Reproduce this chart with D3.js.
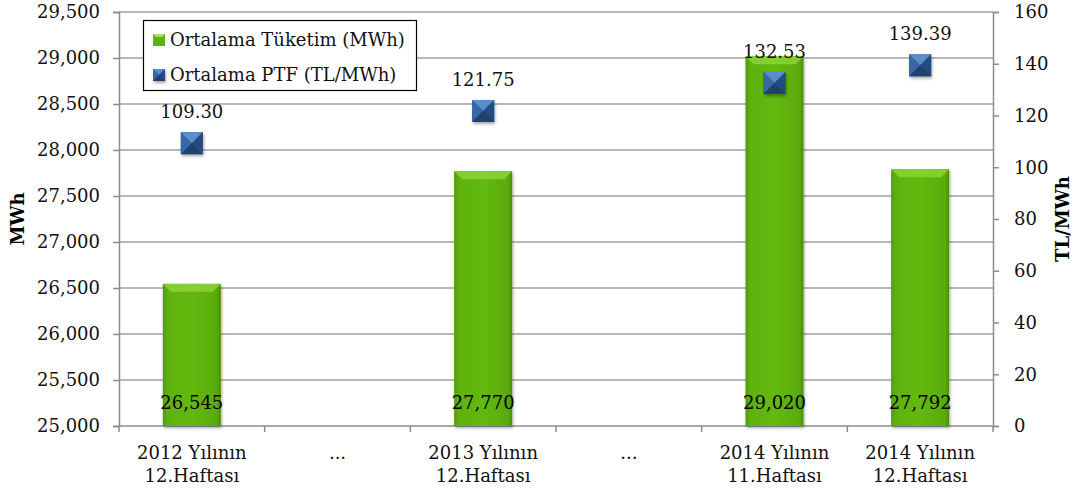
<!DOCTYPE html>
<html>
<head>
<meta charset="utf-8">
<script src="https://cdn.jsdelivr.net/npm/d3@7"></script>
<style>
  body { margin: 0; background: #fff; }
  svg { display: block; font-family: "DejaVu Serif", serif; }
</style>
</head>
<body>
<svg width="1077" height="496"></svg>
<script>
// chart data
var categories = ['2012 Yılının|12.Haftası', '...', '2013 Yılının|12.Haftası', '...', '2014 Yılının|11.Haftası', '2014 Yılının|12.Haftası'];
var consumption = [26545, null, 27770, null, 29020, 27792];
var ptf = [109.30, null, 121.75, null, 132.53, 139.39];
var leftTicks = [25000, 25500, 26000, 26500, 27000, 27500, 28000, 28500, 29000, 29500];
var rightTicks = [0, 20, 40, 60, 80, 100, 120, 140, 160];
var seriesNames = ['Ortalama Tüketim (MWh)', 'Ortalama PTF (TL/MWh)'];

var svg = d3.select('svg');
var plotLeft = 119, plotRight = 993, plotTop = 12, plotBottom = 426;
var fs = 18;
var fmt = d3.format(',');

var x = d3.scaleBand().domain(d3.range(categories.length)).range([plotLeft, plotRight]);
var yL = d3.scaleLinear().domain([25000, 29500]).range([plotBottom, plotTop]);
var yR = d3.scaleLinear().domain([0, 160]).range([plotBottom, plotTop]);

var defs = svg.append('defs');
var bg = defs.append('linearGradient').attr('id', 'barGrad').attr('x1', 0).attr('x2', 1);
bg.append('stop').attr('offset', '0%').attr('stop-color', '#4f9a06');
bg.append('stop').attr('offset', '8%').attr('stop-color', '#5fb20b');
bg.append('stop').attr('offset', '50%').attr('stop-color', '#63b90c');
bg.append('stop').attr('offset', '92%').attr('stop-color', '#5aab0a');
bg.append('stop').attr('offset', '100%').attr('stop-color', '#4a9205');
var sh = defs.append('filter').attr('id', 'shadow').attr('x', '-30%').attr('y', '-30%').attr('width', '160%').attr('height', '160%');
sh.append('feDropShadow').attr('dx', 1).attr('dy', 2).attr('stdDeviation', 1.5).attr('flood-color', '#000').attr('flood-opacity', 0.35);

// gridlines
svg.append('g').selectAll('line').data(leftTicks.slice(1)).join('line')
    .attr('x1', plotLeft).attr('x2', plotRight)
    .attr('y1', function(d) { return yL(d); }).attr('y2', function(d) { return yL(d); })
    .attr('stroke', '#a0a0a0').attr('stroke-width', 1.5);

// axes
var axL = svg.append('g').attr('transform', 'translate(' + plotLeft + ',0)')
    .call(d3.axisLeft(yL).tickValues(leftTicks).tickFormat(fmt).tickSize(6).tickPadding(13));
var axR = svg.append('g').attr('transform', 'translate(' + plotRight + ',0)')
    .call(d3.axisRight(yR).tickValues(rightTicks).tickSize(6).tickPadding(15));
[axL, axR].forEach(function(a) {
    a.select('.domain').attr('stroke', '#8c8c8c').attr('stroke-width', 1.5);
    a.selectAll('.tick line').attr('stroke', '#8c8c8c').attr('stroke-width', 1.5);
    a.selectAll('text').attr('font-family', '"DejaVu Serif", serif').attr('font-size', fs).attr('fill', '#111');
});
svg.append('line').attr('x1', plotLeft).attr('x2', plotRight).attr('y1', plotBottom).attr('y2', plotBottom)
    .attr('stroke', '#8c8c8c').attr('stroke-width', 1.5);

// category boundary ticks
svg.append('g').selectAll('line').data(d3.range(categories.length + 1)).join('line')
    .attr('x1', function(i) { return plotLeft + i * x.step(); })
    .attr('x2', function(i) { return plotLeft + i * x.step(); })
    .attr('y1', plotBottom).attr('y2', plotBottom + 6)
    .attr('stroke', '#8c8c8c').attr('stroke-width', 1.5);

// category labels
svg.append('g').selectAll('text').data(categories).join('text')
    .attr('x', function(d, i) { return x(i) + x.bandwidth() / 2; })
    .attr('y', 459)
    .attr('text-anchor', 'middle').attr('font-size', fs).attr('fill', '#111')
    .each(function(d) {
        var t = d3.select(this);
        d.split('|').forEach(function(line, k) {
            t.append('tspan').attr('x', t.attr('x')).attr('dy', k ? 23 : 0).text(line);
        });
    });

// bars
var barW = 58;
var barData = consumption.map(function(v, i) { return { i: i, v: v }; }).filter(function(d) { return d.v != null; });
var bars = svg.append('g').selectAll('g').data(barData).join('g').attr('filter', 'url(#shadow)');
bars.append('rect')
    .attr('x', function(d) { return x(d.i) + x.bandwidth() / 2 - barW / 2; })
    .attr('y', function(d) { return yL(d.v); })
    .attr('width', barW)
    .attr('height', function(d) { return plotBottom - yL(d.v); })
    .attr('fill', 'url(#barGrad)');
bars.append('path')
    .attr('d', function(d) {
        var x0 = x(d.i) + x.bandwidth() / 2 - barW / 2, y0 = yL(d.v), b = 8;
        return 'M' + x0 + ',' + y0 + 'h' + barW + 'l' + (-b) + ',' + b + 'h' + (-(barW - 2 * b)) + 'Z';
    })
    .attr('fill', '#8fd43a').attr('opacity', 0.8);

// bar labels
svg.append('g').selectAll('text').data(barData).join('text')
    .attr('x', function(d) { return x(d.i) + x.bandwidth() / 2; })
    .attr('y', 409)
    .attr('text-anchor', 'middle').attr('font-size', fs).attr('fill', '#000')
    .text(function(d) { return fmt(d.v); });

// markers
function drawMarker(g, cx, cy, s) {
    var h = s / 2;
    g.append('rect').attr('x', cx - h).attr('y', cy - h).attr('width', s).attr('height', s)
        .attr('fill', '#2b5690').attr('filter', 'url(#shadow)');
    g.append('path').attr('d', 'M' + (cx - h) + ',' + (cy - h) + 'h' + s + 'L' + cx + ',' + cy + 'Z').attr('fill', '#5b8dcc');
    g.append('path').attr('d', 'M' + (cx - h) + ',' + (cy - h) + 'L' + cx + ',' + cy + 'L' + (cx - h) + ',' + (cy + h) + 'Z').attr('fill', '#3767a4');
    g.append('path').attr('d', 'M' + (cx + h) + ',' + (cy - h) + 'L' + cx + ',' + cy + 'L' + (cx + h) + ',' + (cy + h) + 'Z').attr('fill', '#244b7e');
    g.append('path').attr('d', 'M' + (cx - h) + ',' + (cy + h) + 'L' + cx + ',' + cy + 'L' + (cx + h) + ',' + (cy + h) + 'Z').attr('fill', '#1f416f');
}
var ptfData = ptf.map(function(v, i) { return { i: i, v: v }; }).filter(function(d) { return d.v != null; });
var mg = svg.append('g');
ptfData.forEach(function(d) {
    drawMarker(mg, x(d.i) + x.bandwidth() / 2, yR(d.v), 22);
});
svg.append('g').selectAll('text').data(ptfData).join('text')
    .attr('x', function(d) { return x(d.i) + x.bandwidth() / 2; })
    .attr('y', function(d) { return yR(d.v) - 25; })
    .attr('text-anchor', 'middle').attr('font-size', fs).attr('fill', '#111')
    .text(function(d) { return d.v.toFixed(2); });

// axis titles
svg.append('text').attr('transform', 'translate(24,' + ((plotTop + plotBottom) / 2) + ') rotate(-90)')
    .attr('text-anchor', 'middle').attr('font-size', fs).attr('font-weight', 'bold').text('MWh');
svg.append('text').attr('transform', 'translate(1069,' + ((plotTop + plotBottom) / 2) + ') rotate(-90)')
    .attr('text-anchor', 'middle').attr('font-size', fs).attr('font-weight', 'bold').text('TL/MWh');

// legend
var lg = svg.append('g');
lg.append('rect').attr('x', 143.5).attr('y', 20.5).attr('width', 273).attr('height', 70)
    .attr('fill', '#fff').attr('stroke', '#000').attr('stroke-width', 1.2);
lg.append('rect').attr('x', 153).attr('y', 34).attr('width', 12).attr('height', 12).attr('fill', '#5fb20b');
lg.append('path').attr('d', 'M153,34h12l-3,3h-6Z').attr('fill', '#a6e060');
drawMarker(lg, 159, 75, 12);
lg.selectAll('text.lt').data(seriesNames).join('text')
    .attr('x', 170).attr('y', function(d, i) { return 46 + i * 35; })
    .attr('font-size', fs).attr('fill', '#111').text(function(d) { return d; });
</script>
</body>
</html>
